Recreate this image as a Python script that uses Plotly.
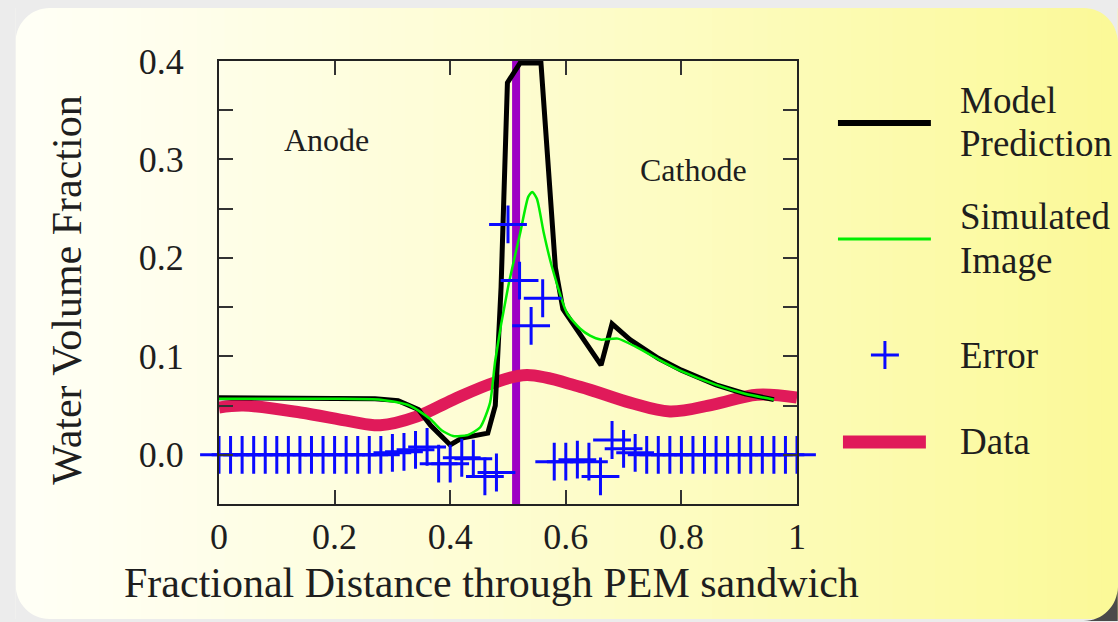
import plotly.graph_objects as go

# ---------------- data ----------------
model_x = [0.0, 0.10, 0.20, 0.27, 0.31, 0.345, 0.366, 0.40, 0.42, 0.465, 0.478, 0.488, 0.499,
           0.521, 0.557, 0.573, 0.582, 0.595, 0.625, 0.661, 0.680, 0.711, 0.76, 0.80, 0.86, 0.91, 0.96]
model_y = [0.058, 0.058, 0.058, 0.057, 0.055, 0.046, 0.030, 0.010, 0.017, 0.022, 0.050, 0.170, 0.378,
           0.398, 0.398, 0.260, 0.190, 0.148, 0.122, 0.091, 0.133, 0.117, 0.098, 0.086, 0.071, 0.062, 0.056]

sim_x = [0.0, 0.20, 0.28, 0.33, 0.366, 0.385, 0.405, 0.43, 0.452, 0.469, 0.478, 0.50, 0.521, 0.535,
         0.542, 0.550, 0.562, 0.576, 0.602, 0.625, 0.642, 0.66, 0.69, 0.72, 0.76, 0.80, 0.86, 0.91, 0.96]
sim_y = [0.057, 0.057, 0.056, 0.050, 0.036, 0.025, 0.019, 0.020, 0.028, 0.053, 0.096, 0.170, 0.225, 0.262,
         0.267, 0.260, 0.225, 0.191, 0.144, 0.128, 0.121, 0.117, 0.118, 0.110, 0.097, 0.085, 0.071, 0.062, 0.056]

data_x = [0.0, 0.042, 0.141, 0.227, 0.279, 0.343, 0.405, 0.475, 0.533, 0.625, 0.711, 0.780, 0.855, 0.931, 1.0]
data_y = [0.048, 0.050, 0.043, 0.034, 0.030, 0.039, 0.056, 0.073, 0.081, 0.069, 0.053, 0.044, 0.051, 0.061, 0.058]

err_x = [round(i * 0.02, 2) for i in range(51)]
err_y = [0.0] * 51
err_dev = {0.30: 0.002, 0.32: 0.003, 0.34: 0.005, 0.36: 0.008, 0.38: -0.009, 0.40: -0.009,
           0.42: -0.003, 0.44: -0.004, 0.46: -0.022, 0.48: -0.018, 0.50: 0.234, 0.52: 0.177,
           0.54: 0.131, 0.56: 0.159, 0.58: -0.007, 0.60: -0.007, 0.62: -0.005, 0.64: -0.007,
           0.66: -0.022, 0.68: 0.015, 0.70: 0.006, 0.72: 0.002}
for i, xv in enumerate(err_x):
    if xv in err_dev:
        err_y[i] = err_dev[xv]

interface_x = 0.514

y_tickvals = [0.0, 0.05, 0.1, 0.15, 0.2, 0.25, 0.3, 0.35, 0.4]
y_ticktext = ["0.0", "", "0.1", "", "0.2", "", "0.3", "", "0.4"]
x_tickvals = [0, 0.2, 0.4, 0.6, 0.8, 1.0]
x_ticktext = ["0", "0.2", "0.4", "0.6", "0.8", "1"]

# ---------------- geometry helpers (pixel -> paper) ----------------
W, H = 1118, 622
ML, MR, MT, MB = 218.5, 321, 61, 118
PW, PH = W - ML - MR, H - MT - MB


def px(x):
    return (x - ML) / PW


def py(y):
    return (H - MB - y) / PH


SERIF = "Liberation Serif, Times New Roman, serif"
TXT = "#1e1e1e"
BLACK = "#000000"
GREEN = "#00ee00"
BLUE = "#0a0aff"
CRIMSON = "#e01a5a"
PURPLE = "#9d00c4"

fig = go.Figure()

fig.add_trace(go.Scatter(x=[interface_x, interface_x], y=[-0.05, 0.4], mode="lines",
                         line=dict(color=PURPLE, width=8), showlegend=False, hoverinfo="skip"))
fig.add_trace(go.Scatter(x=data_x, y=data_y, mode="lines", name="Data",
                         line=dict(color=CRIMSON, width=12, shape="spline", smoothing=1.0),
                         showlegend=False))
fig.add_trace(go.Scatter(x=model_x, y=model_y, mode="lines", name="Model Prediction",
                         line=dict(color=BLACK, width=5), showlegend=False))
fig.add_trace(go.Scatter(x=sim_x, y=sim_y, mode="lines", name="Simulated Image",
                         line=dict(color=GREEN, width=2.5, shape="spline", smoothing=0.6),
                         showlegend=False))
fig.add_trace(go.Scatter(x=err_x, y=err_y, mode="markers", name="Error",
                         marker=dict(symbol="cross-thin", size=27, line=dict(color=BLUE, width=3)),
                         showlegend=False, cliponaxis=False))

shapes = []
# background panel with horizontal gradient
PANEL_L, PANEL_R, PANEL_T, PANEL_B = 15, 1130, 8, 619
N = 80
c0 = (255, 255, 246)
c1 = (251, 249, 150)
for i in range(N):
    xa = PANEL_L + (PANEL_R - PANEL_L) * i / N
    xb = PANEL_L + (PANEL_R - PANEL_L) * (i + 1) / N + 0.8
    t = (i + 0.5) / N
    t = t ** 1.15
    col = "rgb(%d,%d,%d)" % tuple(round(c0[k] + (c1[k] - c0[k]) * t) for k in range(3))
    shapes.append(dict(type="rect", xref="paper", yref="paper", layer="below",
                       x0=px(xa), x1=px(xb), y0=py(PANEL_B), y1=py(PANEL_T),
                       line=dict(width=0), fillcolor=col))
# rounded corner cut-outs
R = 34
GREY = "#ececec"


def corner(cx, cy, sx, sy, col):
    # corner point (cx, cy); sx, sy = direction towards panel interior
    k = 0.55
    a = (cx + sx * R, cy)
    b = (cx, cy + sy * R)
    path = "M %f,%f L %f,%f C %f,%f %f,%f %f,%f Z" % (
        px(cx), py(cy), px(a[0]), py(a[1]),
        px(cx + sx * R * (1 - k)), py(cy), px(cx), py(cy + sy * R * (1 - k)),
        px(b[0]), py(b[1]))
    return dict(type="path", xref="paper", yref="paper", layer="below", path=path,
                line=dict(width=0), fillcolor=col)


shapes.append(corner(PANEL_L, PANEL_T, 1, 1, GREY))
shapes.append(corner(PANEL_R - 12, PANEL_T, -1, 1, GREY))
shapes.append(corner(PANEL_L, PANEL_B, 1, -1, GREY))
shapes.append(corner(PANEL_R - 12, PANEL_B + 2, -1, -1, "#4a4a4a"))

# manual legend
LX0, LX1 = 838, 931
shapes.append(dict(type="line", xref="paper", yref="paper", x0=px(LX0), x1=px(LX1),
                   y0=py(123), y1=py(123), line=dict(color=BLACK, width=6)))
shapes.append(dict(type="line", xref="paper", yref="paper", x0=px(LX0), x1=px(LX1),
                   y0=py(239), y1=py(239), line=dict(color=GREEN, width=3)))
shapes.append(dict(type="line", xref="paper", yref="paper", x0=px(871), x1=px(899),
                   y0=py(355), y1=py(355), line=dict(color=BLUE, width=3)))
shapes.append(dict(type="line", xref="paper", yref="paper", x0=px(885), x1=px(885),
                   y0=py(341), y1=py(369), line=dict(color=BLUE, width=3)))
shapes.append(dict(type="line", xref="paper", yref="paper", x0=px(843), x1=px(926),
                   y0=py(442), y1=py(442), line=dict(color=CRIMSON, width=13)))

ann = []


def text(s, x, y, size, xanchor="left", yanchor="middle", angle=0):
    ann.append(dict(text=s, x=px(x), y=py(y), xref="paper", yref="paper", showarrow=False,
                    xanchor=xanchor, yanchor=yanchor, textangle=angle,
                    font=dict(family=SERIF, size=size, color=TXT)))


text("Model", 958, 100, 37)
text("Prediction", 958, 143, 37)
text("Simulated", 958, 216, 37)
text("Image", 958, 260, 37)
text("Error", 958, 355, 37)
text("Data", 958, 441, 37)
text("Anode", 326, 140, 32, xanchor="center")
text("Cathode", 693, 170, 32, xanchor="center")
text("Fractional Distance through PEM sandwich", 491, 583, 42, xanchor="center")
text("Water Volume Fraction", 66, 290, 42, xanchor="center", angle=-90)

axis_common = dict(showline=True, linecolor="#222222", linewidth=2, mirror="ticks",
                   ticks="inside", ticklen=14, tickwidth=2, tickcolor="#333333",
                   showgrid=False, zeroline=False,
                   tickfont=dict(family=SERIF, size=36, color=TXT))

fig.update_layout(
    width=W, height=H,
    margin=dict(l=ML, r=MR, t=MT, b=MB),
    paper_bgcolor=GREY,
    plot_bgcolor="rgba(0,0,0,0)",
    shapes=shapes,
    annotations=ann,
    showlegend=False,
    xaxis=dict(range=[0, 1], tickmode="array", tickvals=x_tickvals, ticktext=x_ticktext,
               ticklabelstandoff=0, **axis_common),
    yaxis=dict(range=[-0.05, 0.4], tickmode="array", tickvals=y_tickvals, ticktext=y_ticktext,
               ticklabelstandoff=26, **axis_common),
)

fig.write_html("out.html", config={"displayModeBar": False},
               post_script="document.body.style.margin='0';document.body.style.overflow='hidden';")
